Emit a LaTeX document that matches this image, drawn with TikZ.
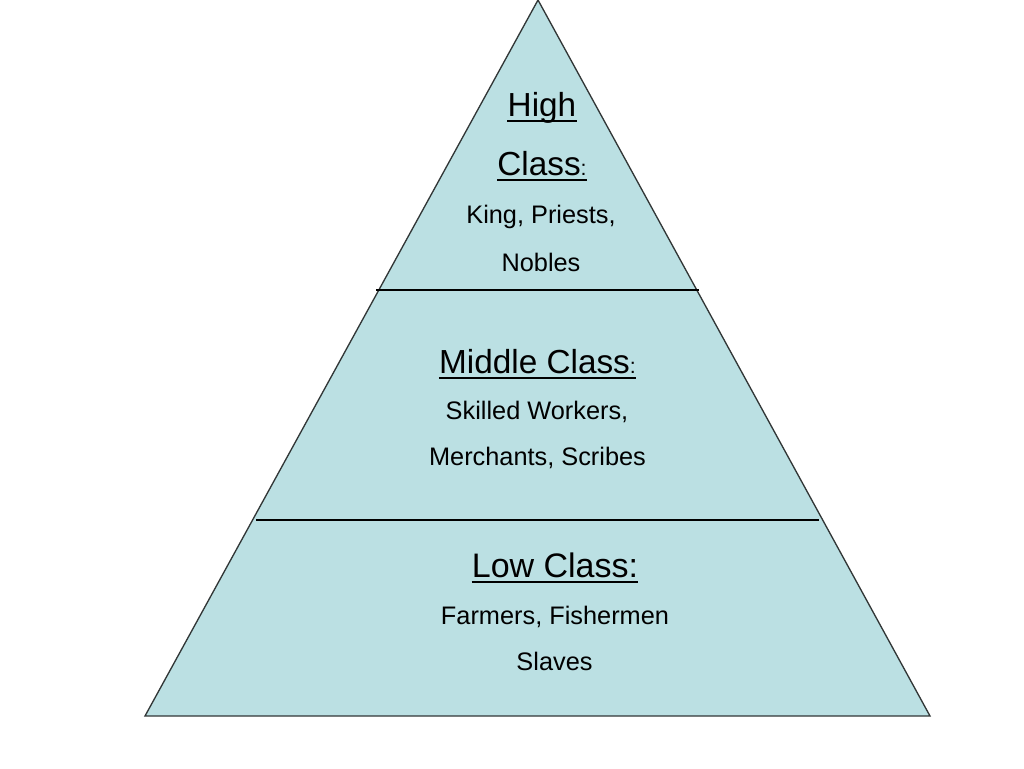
\documentclass[tikz,border=0pt]{standalone}
\usepackage{fontspec}
\setmainfont{Liberation Sans}
\definecolor{pyr}{RGB}{187,224,227}
\definecolor{edge}{RGB}{50,55,55}
\begin{document}
\begin{tikzpicture}[x=0.75pt,y=-0.75pt,
  txt/.style={inner sep=0pt,anchor=base,text=black},
  head/.style={txt,font=\fontsize{25pt}{28pt}\selectfont},
  lowhead/.style={txt,font=\fontsize{25.5pt}{28pt}\selectfont},
  body/.style={txt,font=\fontsize{19pt}{21pt}\selectfont},
  uline/.style={line width=1.5pt,black},
  divider/.style={line width=0.8pt,black}]
\useasboundingbox (0,0) rectangle (1024,768);
\coordinate (apex) at (538,0);
\coordinate (bl) at (145,716);
\coordinate (br) at (930,716);
\filldraw[fill=pyr,draw=edge,line width=1pt,line join=miter] (apex) -- (br) -- (bl) -- cycle;
\coordinate (d1l) at (376,290); \coordinate (d1r) at (699,290);
\coordinate (d2l) at (256,520); \coordinate (d2r) at (819,520);
\draw[divider] (d1l) -- (d1r);
\draw[divider] (d2l) -- (d2r);
% High class
\node[head] (high) at (542,116) {High};
\node[head] (class) at (542,175) {Class{\fontsize{16pt}{18pt}\selectfont:}};
\node[body] (king) at (541,223) {King, Priests,};
\node[body] (nobles) at (541,271) {Nobles};
% Middle class
\node[head] (middle) at (537.5,373) {Middle Class{\fontsize{16pt}{18pt}\selectfont:}};
\node[body] (skilled) at (537,419) {Skilled Workers,};
\node[body] (merch) at (537.5,465) {Merchants, Scribes};
% Low class
\node[lowhead] (low) at (555,577) {Low Class:};
\node[body] (farm) at (555,624) {Farmers, Fishermen};
\node[body] (slaves) at (554.5,670) {Slaves};
% underlines
\foreach \n in {high,class,middle,low}{
  \draw[uline] ([yshift=-4pt]\n.base west) -- ([yshift=-4pt]\n.base east);
}
\end{tikzpicture}
\end{document}
